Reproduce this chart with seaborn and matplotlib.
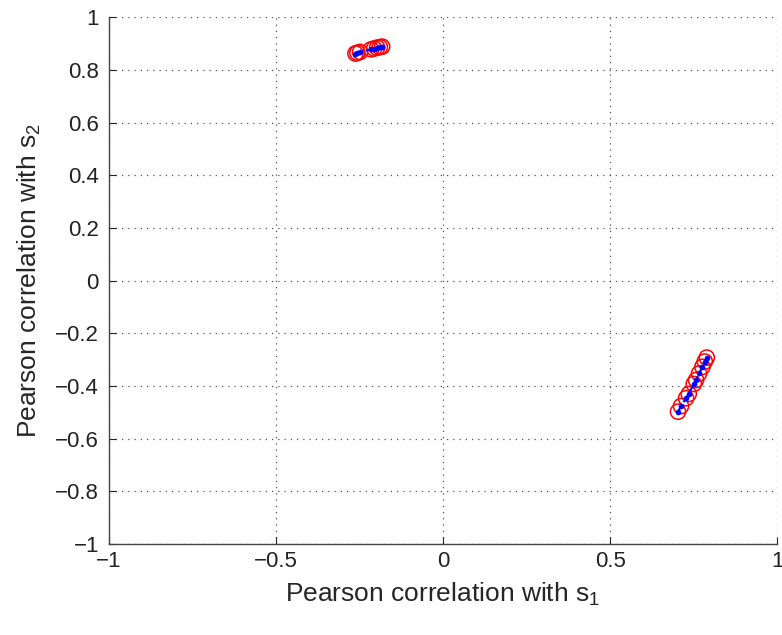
import matplotlib
matplotlib.use("Agg")
import matplotlib.pyplot as plt
import seaborn as sns
import pandas as pd

sns.set_style("white")
plt.rcParams['font.family'] = ['Liberation Sans', 'DejaVu Sans']

# cluster 1 (upper-left)
c1_x = [-0.262, -0.256, -0.248, -0.215, -0.206, -0.197, -0.189, -0.182]
c1_y = [0.862, 0.865, 0.868, 0.878, 0.881, 0.884, 0.886, 0.888]
# cluster 2 (lower-right)
c2_x = [0.703, 0.712, 0.727, 0.735, 0.750, 0.757, 0.766, 0.776, 0.783, 0.789]
c2_y = [-0.497, -0.476, -0.446, -0.430, -0.392, -0.377, -0.352, -0.327, -0.307, -0.292]

xticks = [-1, -0.5, 0, 0.5, 1]
yticks = [-1, -0.8, -0.6, -0.4, -0.2, 0, 0.2, 0.4, 0.6, 0.8, 1]
xticklabels = ["\u22121", "\u22120.5", "0", "0.5", "1"]
yticklabels = ["\u22121", "\u22120.8", "\u22120.6", "\u22120.4", "\u22120.2", "0",
               "0.2", "0.4", "0.6", "0.8", "1"]

df = pd.DataFrame({"x": c1_x + c2_x, "y": c1_y + c2_y,
                   "cluster": ["a"] * len(c1_x) + ["b"] * len(c2_x)})

fig = plt.figure(figsize=(7.82, 6.35), dpi=100)
ax = fig.add_axes([0.139, 0.143, 0.855, 0.830])

sns.scatterplot(data=df, x="x", y="y", ax=ax, marker="o", s=120,
                facecolors="none", edgecolor="red", linewidth=1.1, legend=False)
for cl, sub in df.groupby("cluster"):
    sns.lineplot(data=sub, x="x", y="y", ax=ax, color="blue", linestyle="--",
                 linewidth=1.5, sort=False, estimator=None, legend=False)
sns.scatterplot(data=df, x="x", y="y", ax=ax, marker="o", s=14,
                color="blue", edgecolor="blue", legend=False, zorder=5)

ax.set_xlim(-1, 1)
ax.set_ylim(-1, 1)
ax.set_xticks(xticks)
ax.set_yticks(yticks)
ax.set_xticklabels(xticklabels)
ax.set_yticklabels(yticklabels)
ax.grid(True, linestyle=(0, (1, 4)), color="#555555", linewidth=0.9)
ax.tick_params(direction="in", length=5, labelsize=16, colors="#222222",
               left=True, bottom=True)
ax.tick_params(axis="y", pad=7)
ax.tick_params(axis="x", pad=5)
for s in ["top", "right"]:
    ax.spines[s].set_visible(False)
for s in ["left", "bottom"]:
    ax.spines[s].set_color("#444444")
    ax.spines[s].set_linewidth(1.0)

ax.set_xlabel(r"Pearson correlation with $\mathregular{s_1}$", fontsize=19, labelpad=6)
ax.set_ylabel(r"Pearson correlation with $\mathregular{s_2}$", fontsize=19, labelpad=9)

fig.savefig("out.png", dpi=100)
